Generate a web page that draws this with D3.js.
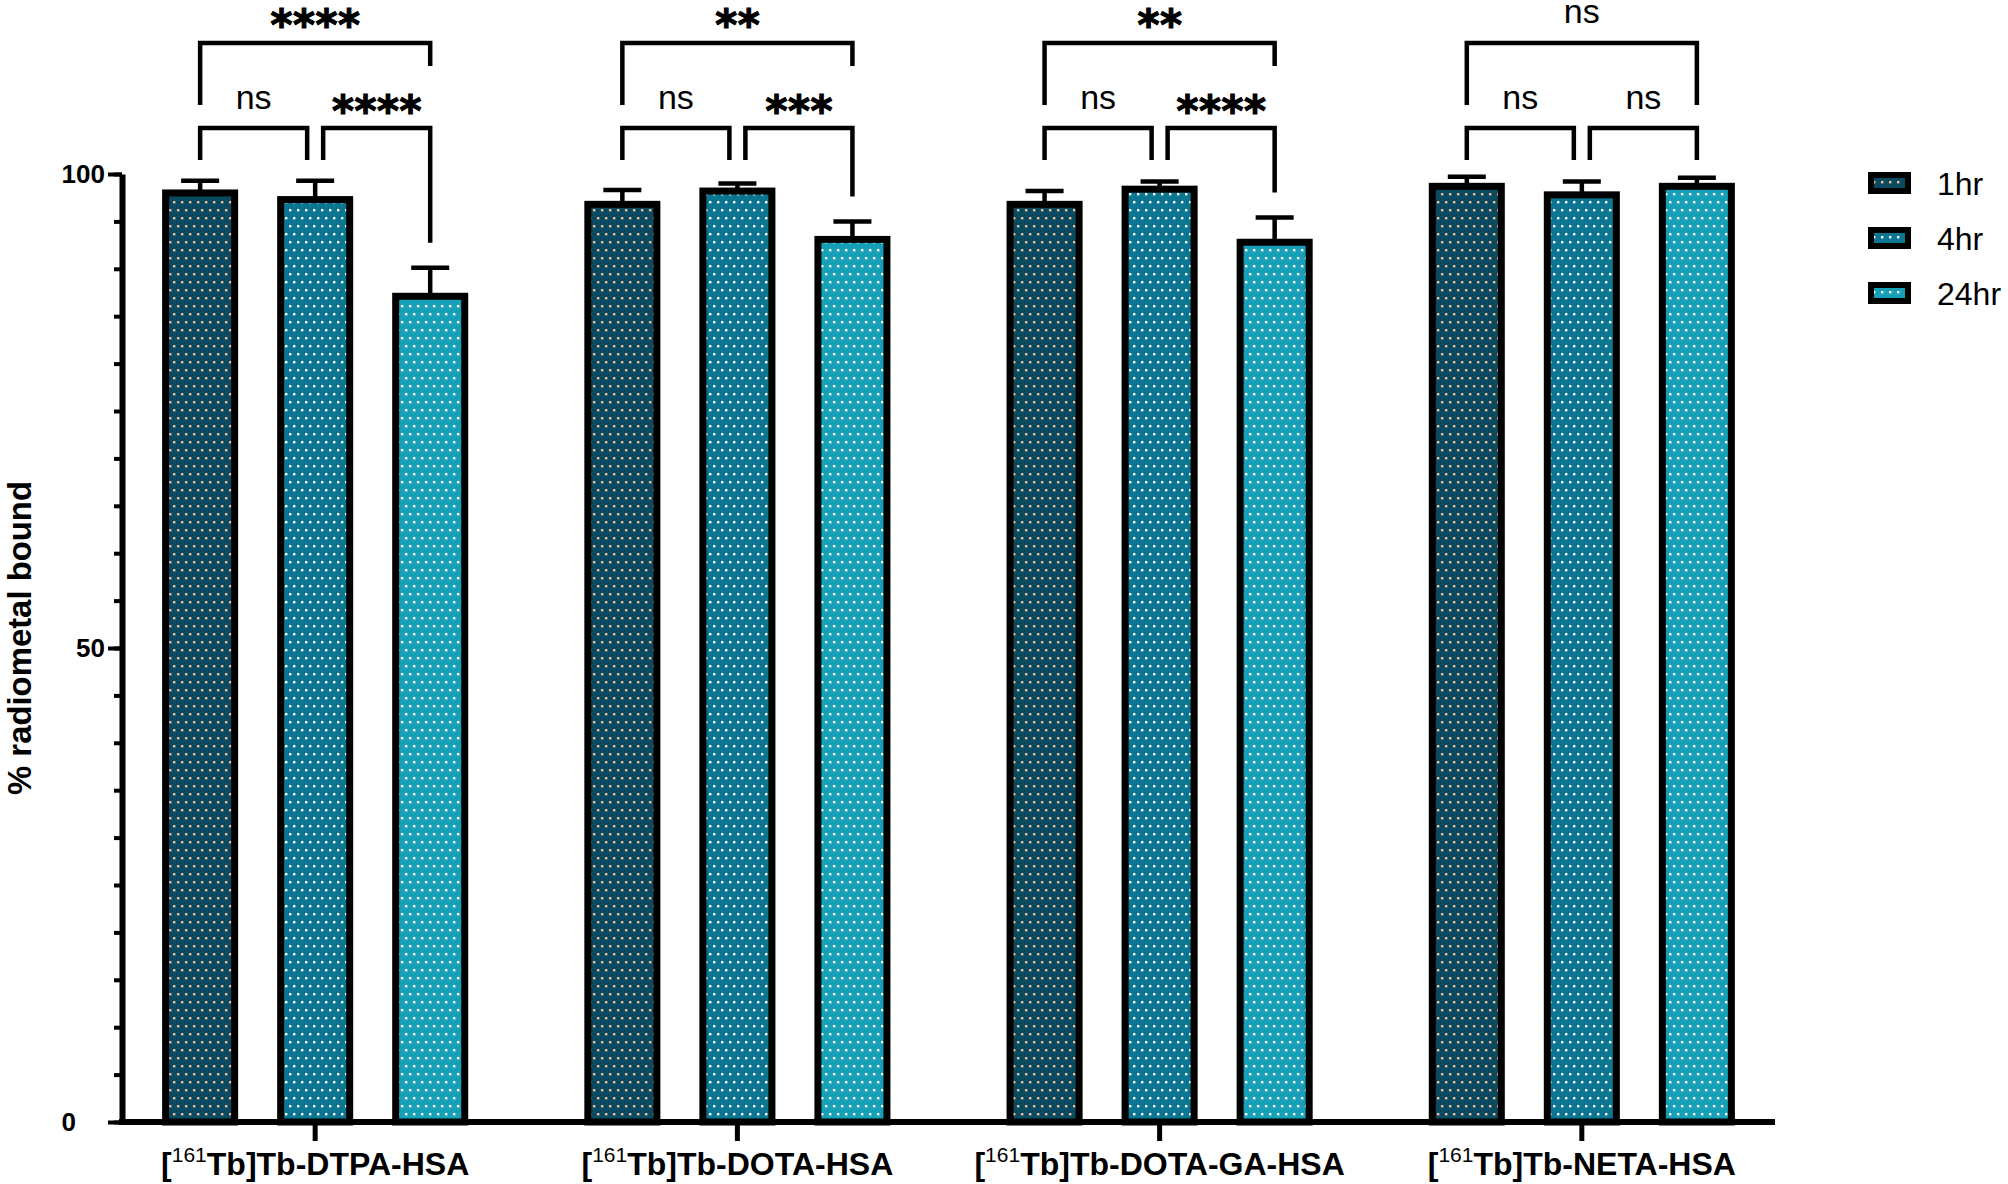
<!DOCTYPE html>
<html>
<head>
<meta charset="utf-8">
<script src="https://cdn.jsdelivr.net/npm/d3@7"></script>
<style>
  body { margin: 0; background: #fff; }
  text { font-family: "Liberation Sans", Arial, sans-serif; fill: #000; }
</style>
</head>
<body>
<div id="chart"></div>
<script>
/* data */
var groups = ["DTPA-HSA", "DOTA-HSA", "DOTA-GA-HSA", "NETA-HSA"];
var series = ["1hr", "4hr", "24hr"];
var mean1hr = [98.0, 96.8, 96.8, 98.7];
var sd1hr = [1.3, 1.5, 1.4, 1.0];
var mean4hr = [97.3, 98.2, 98.4, 97.8];
var sd4hr = [2.0, 0.8, 0.8, 1.4];
var mean24hr = [87.1, 93.1, 92.8, 98.7];
var sd24hr = [3.0, 1.9, 2.6, 0.9];
var majorTicks = [0, 50, 100];
// significance labels per group: 1hr vs 4hr, 4hr vs 24hr, 1hr vs 24hr
var sig1v4 = ["ns", "ns", "ns", "ns"];
var sig4v24 = ["****", "***", "****", "ns"];
var sig1v24 = ["****", "**", "**", "ns"];

/* constants */
var W = 2008, H = 1184;
var plotLeft = 122, plotRight = 1775, plotTop = 174, plotBottom = 1122;
var fills = ["#0b4b5f", "#0b7691", "#169fb8"];
var dots = ["#f3b9a2", "#ffffff", "#ffffff"];
var outline = 7;

var means = [mean1hr, mean4hr, mean24hr];
var sds = [sd1hr, sd4hr, sd24hr];

var svg = d3.select("#chart").append("svg")
    .attr("width", W)
    .attr("height", H);

svg.append("rect").attr("width", W).attr("height", H).attr("fill", "#fff");

// dotted fill patterns
var defs = svg.append("defs");
series.forEach(function(s, i){
    var p = defs.append("pattern")
        .attr("id", "pat" + i)
        .attr("patternUnits", "userSpaceOnUse")
        .attr("width", 8).attr("height", 16);
    p.append("rect").attr("width", 8).attr("height", 16).attr("fill", fills[i]);
    p.append("rect").attr("x", 1).attr("y", 1).attr("width", 2.4).attr("height", 2.4).attr("fill", dots[i]);
    p.append("rect").attr("x", 5).attr("y", 9).attr("width", 2.4).attr("height", 2.4).attr("fill", dots[i]);
});

var y = d3.scaleLinear().domain([0, 100]).range([plotBottom, plotTop]);
var x0 = d3.scaleBand().domain(groups).range([plotLeft, plotRight]).paddingInner(0.275).paddingOuter(0.095);
var x1 = d3.scaleBand().domain(series).range([0, x0.bandwidth()]).paddingInner(0.339).paddingOuter(0);

var rows = [];
groups.forEach(function(g, gi){
    series.forEach(function(s, si){
        rows.push({g: g, gi: gi, s: s, si: si, v: means[si][gi], sd: sds[si][gi]});
    });
});

function cx(d){ return x0(d.g) + x1(d.s) + x1.bandwidth() / 2; }

/* error bars */
var err = svg.append("g").attr("stroke", "#000").attr("stroke-width", 4.5);
err.selectAll(".stem").data(rows).enter().append("line")
    .attr("x1", cx).attr("x2", cx)
    .attr("y1", function(d){ return y(d.v); })
    .attr("y2", function(d){ return y(d.v + d.sd); });
err.selectAll(".cap").data(rows).enter().append("line")
    .attr("x1", function(d){ return cx(d) - x1.bandwidth() / 4; })
    .attr("x2", function(d){ return cx(d) + x1.bandwidth() / 4; })
    .attr("y1", function(d){ return y(d.v + d.sd); })
    .attr("y2", function(d){ return y(d.v + d.sd); });

/* bars */
svg.append("g").selectAll("rect").data(rows).enter().append("rect")
    .attr("x", function(d){ return x0(d.g) + x1(d.s) + outline / 2; })
    .attr("width", x1.bandwidth() - outline)
    .attr("y", function(d){ return y(d.v); })
    .attr("height", function(d){ return y(0) - y(d.v); })
    .attr("fill", function(d){ return "url(#pat" + d.si + ")"; })
    .attr("stroke", "#000")
    .attr("stroke-width", outline);

/* y axis */
var yMinor = svg.append("g").attr("transform", "translate(" + plotLeft + ",0)")
    .call(d3.axisLeft(y).tickValues(d3.range(0, 101, 5)).tickSize(8).tickSizeOuter(0).tickFormat(""));
yMinor.select(".domain").remove();
yMinor.selectAll("line").attr("stroke-width", 4);

var yAxis = svg.append("g").attr("transform", "translate(" + plotLeft + ",0)")
    .call(d3.axisLeft(y).tickValues(majorTicks).tickSize(14).tickSizeOuter(0).tickPadding(3));
yAxis.select(".domain").attr("stroke-width", 6);
yAxis.selectAll("line").attr("stroke-width", 4);
yAxis.selectAll("text")
    .style("font-family", "'Liberation Sans', Arial, sans-serif")
    .style("font-weight", "bold")
    .style("font-size", "26px");
// the "0" label sits left-aligned with the "100" label, as in the original
var w100 = yAxis.selectAll("text").filter(function(d){ return d === 100; }).node().getComputedTextLength();
yAxis.selectAll("text").filter(function(d){ return d === 0; })
    .attr("text-anchor", "start")
    .attr("x", -17 - w100);

svg.append("text")
    .attr("transform", "translate(31," + ((plotTop + plotBottom) / 2 - 10) + ") rotate(-90)")
    .attr("text-anchor", "middle")
    .attr("textLength", 314)
    .attr("lengthAdjust", "spacingAndGlyphs")
    .style("font-weight", "bold")
    .style("font-size", "34px")
    .text("% radiometal bound");

/* x axis */
var xAxis = svg.append("g").attr("transform", "translate(0," + plotBottom + ")")
    .call(d3.axisBottom(x0).tickSize(19).tickSizeOuter(0).tickFormat(""));
xAxis.select(".domain").attr("stroke-width", 6).attr("d", "M" + (plotLeft - 3) + ",0H" + plotRight);
xAxis.selectAll("line").attr("stroke-width", 5);

var catLabel = svg.append("g").selectAll("text").data(groups).enter().append("text")
    .attr("x", function(d){ return x0(d) + x0.bandwidth() / 2; })
    .attr("y", 1175)
    .attr("text-anchor", "middle")
    .style("font-weight", "bold")
    .style("font-size", "32px");
catLabel.append("tspan").text("[");
catLabel.append("tspan").attr("dy", -13).style("font-size", "21px").style("font-weight", "normal").text("161");
catLabel.append("tspan").attr("dy", 13).text(function(d){ return "Tb]Tb-" + d; });

/* significance brackets */
var br = svg.append("g").attr("fill", "none").attr("stroke", "#000").attr("stroke-width", 4.5);
var lowY = 128, topY = 43, legStd = 160;

function label(txt, xc, yBase){
    if (txt === "ns") {
        svg.append("text").attr("x", xc).attr("y", yBase + 9)
            .attr("text-anchor", "middle").style("font-size", "34px").text("ns");
    } else {
        var n = txt.length, sp = 22.5;
        for (var k = 0; k < n; k++) {
            svg.append("text").attr("x", xc + (k - (n - 1) / 2) * sp).attr("y", yBase + 26)
                .attr("text-anchor", "middle")
                .attr("stroke", "#000").attr("stroke-width", 1.2)
                .style("font-family", "'DejaVu Sans', sans-serif")
                .style("font-weight", "bold").style("font-size", "42px").text("*");
        }
    }
}

groups.forEach(function(g, gi){
    var a = x0(g) + x1("1hr") + x1.bandwidth() / 2;
    var b = x0(g) + x1("4hr") + x1.bandwidth() / 2;
    var c = x0(g) + x1("24hr") + x1.bandwidth() / 2;
    var errC = y(mean24hr[gi] + sd24hr[gi]) - 25;
    var legC = Math.max(legStd, errC);
    var extended = legC > legStd + 2;

    br.append("path").attr("d", "M" + a + "," + legStd + "V" + lowY + "H" + (b - 8) + "V" + legStd);
    br.append("path").attr("d", "M" + (b + 8) + "," + legStd + "V" + lowY + "H" + c + "V" + legC);
    br.append("path").attr("d", "M" + a + ",105V" + topY + "H" + c + "V" + (extended ? 66 : 105));

    label(sig1v4[gi], (a + b - 8) / 2, 100);
    label(sig4v24[gi], (b + 8 + c) / 2, 100);
    label(sig1v24[gi], (a + c) / 2, 14);
});

/* legend */
var leg = svg.append("g").selectAll("g").data(series).enter().append("g")
    .attr("transform", function(d, i){ return "translate(1868," + (172 + i * 55) + ")"; });
leg.append("rect")
    .attr("x", 3).attr("y", 3).attr("width", 37).attr("height", 16)
    .attr("fill", function(d, i){ return "url(#pat" + i + ")"; })
    .attr("stroke", "#000").attr("stroke-width", 6);
leg.append("text").attr("x", 69).attr("y", 23)
    .style("font-size", "32px").text(function(d){ return d; });
</script>
</body>
</html>
